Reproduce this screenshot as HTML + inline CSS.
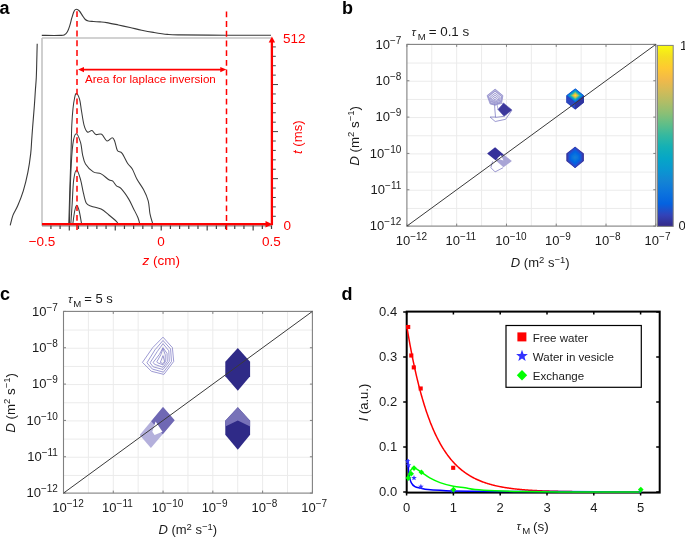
<!DOCTYPE html><html><head><meta charset="utf-8"><style>html,body{margin:0;padding:0;background:#fff;overflow:hidden}svg{display:block;will-change:transform}text{font-family:"Liberation Sans",sans-serif}</style></head><body>
<svg width="685" height="537" viewBox="0 0 685 537">
<defs><linearGradient id="cbar" x1="0" y1="0" x2="0" y2="1"><stop offset="0.0000" stop-color="#f9fb0e"/><stop offset="0.0625" stop-color="#f5de21"/><stop offset="0.1250" stop-color="#fec932"/><stop offset="0.1875" stop-color="#f2b949"/><stop offset="0.2500" stop-color="#d3bb58"/><stop offset="0.3125" stop-color="#b1bd66"/><stop offset="0.3750" stop-color="#8bbf75"/><stop offset="0.4375" stop-color="#5ebe89"/><stop offset="0.5000" stop-color="#33b8a1"/><stop offset="0.5625" stop-color="#13b0b6"/><stop offset="0.6250" stop-color="#06a6c7"/><stop offset="0.6875" stop-color="#0a97d1"/><stop offset="0.7500" stop-color="#1484d4"/><stop offset="0.8125" stop-color="#0c74dd"/><stop offset="0.8750" stop-color="#0462e0"/><stop offset="0.9375" stop-color="#3243b9"/><stop offset="1.0000" stop-color="#352a87"/></linearGradient><filter id="bl" x="-20%" y="-20%" width="140%" height="140%"><feGaussianBlur stdDeviation="0.6"/></filter></defs>
<rect width="685" height="537" fill="#fff"/>
<text x="-0.5" y="14" font-size="18" font-weight="bold" fill="#000">a</text>
<path d="M42,38 H271 M42,38 V225.8" stroke="#c4c4c4" stroke-width="1.6" fill="none"/>
<path d="M42,225.8 H272" stroke="#8a8a8a" stroke-width="1.2" fill="none"/>
<path d="M41.80,35.40 C44.83,35.40 56.22,35.50 60.00,35.40 C63.78,35.30 63.27,35.40 64.50,34.80 C65.73,34.20 66.53,33.28 67.40,31.80 C68.27,30.32 68.95,28.25 69.70,25.90 C70.45,23.55 71.15,20.18 71.90,17.70 C72.65,15.22 73.43,12.40 74.20,11.00 C74.97,9.60 75.63,9.30 76.50,9.30 C77.37,9.30 78.43,9.98 79.40,11.00 C80.37,12.02 81.32,13.98 82.30,15.40 C83.28,16.82 84.30,18.57 85.30,19.50 C86.30,20.43 86.93,20.67 88.30,21.00 C89.67,21.33 91.55,21.35 93.50,21.50 C95.45,21.65 97.80,21.72 100.00,21.90 C102.20,22.08 103.63,22.08 106.70,22.60 C109.77,23.12 114.52,24.18 118.40,25.00 C122.28,25.82 126.12,26.63 130.00,27.50 C133.88,28.37 137.80,29.38 141.70,30.20 C145.60,31.02 149.12,31.70 153.40,32.40 C157.68,33.10 162.97,33.98 167.40,34.40 C171.83,34.82 170.23,34.77 180.00,34.90 C189.77,35.03 210.83,35.13 226.00,35.20 C241.17,35.27 263.50,35.28 271.00,35.30" stroke="#3a3a3a" stroke-width="1.1" fill="none"/>
<path d="M37.20,43.70 C37.13,46.42 36.95,54.42 36.80,60.00 C36.65,65.58 36.53,72.20 36.30,77.20 C36.07,82.20 35.72,85.33 35.40,90.00 C35.08,94.67 34.87,98.95 34.40,105.20 C33.93,111.45 33.05,121.70 32.60,127.50 C32.15,133.30 32.02,135.65 31.70,140.00 C31.38,144.35 31.33,148.23 30.70,153.60 C30.07,158.97 29.13,165.98 27.90,172.20 C26.67,178.42 25.00,185.30 23.30,190.90 C21.60,196.50 19.42,201.77 17.70,205.80 C15.98,209.83 14.25,211.85 13.00,215.10 C11.75,218.35 10.67,223.60 10.20,225.30" stroke="#3a3a3a" stroke-width="1.1" fill="none"/>
<path d="M68.80,224.00 C68.97,218.33 69.42,202.33 69.80,190.00 C70.18,177.67 70.77,160.83 71.10,150.00 C71.43,139.17 71.48,131.92 71.80,125.00 C72.12,118.08 72.53,113.00 73.00,108.50 C73.47,104.00 74.05,100.50 74.60,98.00 C75.15,95.50 75.47,93.28 76.30,93.50 C77.13,93.72 78.73,96.38 79.60,99.30 C80.47,102.22 80.75,106.65 81.50,111.00 C82.25,115.35 83.12,121.90 84.10,125.40 C85.08,128.90 86.08,131.13 87.40,132.00 C88.72,132.87 90.58,130.18 92.00,130.60 C93.42,131.02 94.28,133.88 95.90,134.50 C97.52,135.12 99.85,133.22 101.70,134.30 C103.55,135.38 105.25,140.42 107.00,141.00 C108.75,141.58 110.92,137.77 112.20,137.80 C113.48,137.83 113.83,139.08 114.70,141.20 C115.57,143.32 116.17,148.48 117.40,150.50 C118.63,152.52 120.38,151.13 122.10,153.30 C123.82,155.47 126.00,160.88 127.70,163.50 C129.40,166.12 130.75,166.37 132.30,169.00 C133.85,171.63 135.13,175.87 137.00,179.30 C138.87,182.73 141.63,186.02 143.50,189.60 C145.37,193.18 147.12,196.77 148.20,200.80 C149.28,204.83 149.23,209.93 150.00,213.80 C150.77,217.67 152.33,222.30 152.80,224.00" stroke="#3a3a3a" stroke-width="1.05" fill="none"/>
<path d="M69.40,224.00 C69.63,215.65 70.23,187.13 70.80,173.90 C71.37,160.67 71.92,151.28 72.80,144.60 C73.68,137.92 74.80,134.13 76.10,133.80 C77.40,133.47 79.53,139.18 80.60,142.60 C81.67,146.02 81.68,150.72 82.50,154.30 C83.32,157.88 83.70,161.17 85.50,164.10 C87.30,167.03 90.70,170.27 93.30,171.90 C95.90,173.53 98.50,172.58 101.10,173.90 C103.70,175.22 106.95,178.58 108.90,179.80 C110.85,181.02 111.53,180.18 112.80,181.20 C114.07,182.22 115.10,184.65 116.50,185.90 C117.90,187.15 119.18,186.53 121.20,188.70 C123.22,190.87 126.58,195.65 128.60,198.90 C130.62,202.15 131.75,205.10 133.30,208.20 C134.85,211.30 136.82,214.87 137.90,217.50 C138.98,220.13 139.48,222.92 139.80,224.00" stroke="#3a3a3a" stroke-width="1.05" fill="none"/>
<path d="M70.80,224.00 C71.03,220.53 71.72,210.57 72.20,203.20 C72.68,195.83 72.95,185.33 73.70,179.80 C74.45,174.27 75.55,170.00 76.70,170.00 C77.85,170.00 79.47,175.90 80.60,179.80 C81.73,183.70 82.53,189.50 83.50,193.40 C84.47,197.30 85.10,201.07 86.40,203.20 C87.70,205.33 88.85,205.23 91.30,206.20 C93.75,207.17 98.17,207.53 101.10,209.00 C104.03,210.47 106.28,212.87 108.90,215.00 C111.52,217.13 115.28,220.30 116.80,221.80 C118.32,223.30 117.80,223.63 118.00,224.00" stroke="#3a3a3a" stroke-width="1.05" fill="none"/>
<path d="M72.80,224.00 C73.12,221.83 74.05,214.13 74.70,211.00 C75.35,207.87 75.95,205.20 76.70,205.20 C77.45,205.20 78.38,207.87 79.20,211.00 C80.02,214.13 81.20,221.83 81.60,224.00" stroke="#3a3a3a" stroke-width="1.05" fill="none"/>
<path d="M50.91,225.5 V228.9 M60.10,225.5 V228.9 M69.30,225.5 V230.6 M78.49,225.5 V228.9 M87.68,225.5 V228.9 M96.87,225.5 V228.9 M106.06,225.5 V228.9 M115.26,225.5 V230.6 M124.45,225.5 V228.9 M133.64,225.5 V228.9 M142.83,225.5 V228.9 M152.02,225.5 V228.9 M161.22,225.5 V230.6 M170.41,225.5 V228.9 M179.60,225.5 V228.9 M188.79,225.5 V228.9 M197.98,225.5 V228.9 M207.18,225.5 V230.6 M216.37,225.5 V228.9 M225.56,225.5 V228.9 M234.75,225.5 V228.9 M243.94,225.5 V228.9 M253.14,225.5 V230.6 M262.33,225.5 V228.9 M271.52,225.5 V228.9 " stroke="#404040" stroke-width="1.2" fill="none"/>
<path d="M272,216.29 H275.8 M272,206.88 H275.8 M272,197.47 H275.8 M272,188.06 H275.8 M272,178.65 H278 M272,169.24 H275.8 M272,159.83 H275.8 M272,150.42 H275.8 M272,141.01 H275.8 M272,131.60 H278 M272,122.19 H275.8 M272,112.78 H275.8 M272,103.37 H275.8 M272,93.96 H275.8 M272,84.55 H278 M272,75.14 H275.8 M272,65.73 H275.8 M272,56.32 H275.8 M272,46.91 H275.8 " stroke="#444" stroke-width="1" fill="none"/>
<path d="M42,224.2 H266.5 M271.9,225.2 V42" stroke="#ff0000" stroke-width="2.3" fill="none"/>
<path d="M272.6,224.2 L265.5,220.9 L265.5,227.5 Z" fill="#ff0000"/>
<path d="M271.9,36.6 L268.7,42.6 L275.1,42.6 Z" fill="#ff0000"/>
<path d="M77,11.2 V230 M226.5,11.4 V230" stroke="#ff0000" stroke-width="1.5" stroke-dasharray="5.9 3.8" fill="none"/>
<path d="M82.5,69.6 H221.5" stroke="#ff0000" stroke-width="1.6" fill="none"/>
<path d="M78,69.6 L84,66.9 L84,72.3 Z M226.3,69.6 L220.3,66.9 L220.3,72.3 Z" fill="#ff0000"/>
<text x="85" y="83" font-size="11.6" fill="#ff0000">Area for laplace inversion</text>
<text x="283" y="42.8" font-size="13.5" fill="#ff0000">512</text>
<text x="283.5" y="229.8" font-size="13.5" fill="#ff0000">0</text>
<text x="42" y="246" font-size="13.5" fill="#ff0000" text-anchor="middle">−0.5</text>
<text x="161" y="246" font-size="13.5" fill="#ff0000" text-anchor="middle">0</text>
<text x="271.5" y="246" font-size="13.5" fill="#ff0000" text-anchor="middle">0.5</text>
<text x="142.5" y="265.3" font-size="13.5" fill="#ff0000"><tspan font-style="italic">z</tspan> (cm)</text>
<text transform="translate(301.9,154) rotate(-90)" font-size="13.2" fill="#ff0000"><tspan font-style="italic">t</tspan> (ms)</text>
<text x="342" y="14" font-size="18" font-weight="bold" fill="#000">b</text>
<path d="M431.79,44.4 V226.1 M406.9,63.07 H655.8 M456.68,44.4 V226.1 M406.9,81.24 H655.8 M481.57,44.4 V226.1 M406.9,99.41 H655.8 M506.46,44.4 V226.1 M406.9,117.58 H655.8 M531.35,44.4 V226.1 M406.9,135.75 H655.8 M556.24,44.4 V226.1 M406.9,153.92 H655.8 M581.13,44.4 V226.1 M406.9,172.09 H655.8 M606.02,44.4 V226.1 M406.9,190.26 H655.8 M630.91,44.4 V226.1 M406.9,208.43 H655.8 " stroke="#ebebeb" stroke-width="1" fill="none"/>
<path d="M495.10,89.10 L502.90,95.60 L501.70,102.50 L495.30,105.20 L490.20,104.00 L487.10,95.60Z" fill="#b9b5dd" stroke="#8a86c8" stroke-width="0.7"/>
<path d="M495.10,91.17 L501.50,96.50 L500.51,102.16 L495.26,104.37 L491.08,103.39 L488.54,96.50Z" fill="#eeedf7" stroke="#8a86c8" stroke-width="0.75"/>
<path d="M495.10,93.24 L500.09,97.40 L499.32,101.82 L495.23,103.54 L491.96,102.78 L489.98,97.40Z" fill="#eeedf7" stroke="#8a86c8" stroke-width="0.75"/>
<path d="M495.10,95.19 L498.77,98.25 L498.20,101.49 L495.19,102.76 L492.80,102.20 L491.34,98.25Z" fill="#eeedf7" stroke="#8a86c8" stroke-width="0.75"/>
<path d="M495.10,97.15 L497.44,99.10 L497.08,101.17 L495.16,101.98 L493.63,101.62 L492.70,99.10Z" fill="#eeedf7" stroke="#8a86c8" stroke-width="0.75"/>
<path d="M495.10,98.99 L496.19,99.90 L496.02,100.87 L495.13,101.24 L494.41,101.08 L493.98,99.90Z" fill="#eeedf7" stroke="#8a86c8" stroke-width="0.75"/>
<path d="M497.00,104.40 L503.70,103.20 L498.10,109.60Z" fill="#fff" stroke="#8a86c8" stroke-width="0.7"/>
<path d="M503.70,103.20 L511.90,110.00 L504.10,116.30 L498.10,109.60Z" fill="#3d389c" stroke="#4a46a6" stroke-width="0.6"/>
<path d="M494.6,104.5 L494.8,108.8 L495.5,117 L490,117 L495.2,121.5 L505.6,119.3 L511.9,110.3 M495.2,117.4 L504.1,116.3" fill="none" stroke="#7a76c0" stroke-width="0.75"/>
<path d="M504.30,155.10 L511.90,161.00 L503.50,167.30 L495.50,160.20Z" fill="#a9a5d6"/>
<path d="M495.10,147.20 L503.90,154.70 L495.50,160.20 L487.10,153.40Z" fill="#35309a"/>
<path d="M497.00,158.50 L501.00,155.00 L503.40,160.50Z" fill="#fff"/>
<path d="M492.6,161.4 L490.9,167.7 L495.1,171.9 L503.1,167.7" fill="none" stroke="#7a76c0" stroke-width="0.75"/>
<path d="M575.30,88.40 L583.90,95.40 L583.90,102.50 L575.30,109.50 L566.40,102.50 L566.40,95.40Z" fill="#2a3aa8"/>
<path d="M566.40,95.40 L575.30,102.50 L575.30,109.50 L566.40,102.50Z" fill="#2c46c0"/>
<path d="M583.90,95.40 L575.30,102.50 L575.30,109.50 L583.90,102.50Z" fill="#3035a0"/>
<path d="M575.30,88.40 L583.90,95.40 L575.30,102.50 L566.40,95.40Z" fill="#0860df"/>
<path d="M575.30,89.10 L583.04,95.40 L575.30,101.79 L567.29,95.40Z" fill="#0e77db"/>
<path d="M575.30,89.80 L582.18,95.40 L575.30,101.08 L568.18,95.40Z" fill="#108fd2"/>
<path d="M575.30,90.50 L581.32,95.40 L575.30,100.37 L569.07,95.40Z" fill="#06a7c6"/>
<path d="M575.30,91.20 L580.46,95.40 L575.30,99.66 L569.96,95.40Z" fill="#28b6a8"/>
<path d="M575.30,91.90 L579.60,95.40 L575.30,98.95 L570.85,95.40Z" fill="#6cbf82"/>
<path d="M575.30,92.60 L578.74,95.40 L575.30,98.24 L571.74,95.40Z" fill="#afbe67"/>
<path d="M575.30,93.30 L577.88,95.40 L575.30,97.53 L572.63,95.40Z" fill="#e6b950"/>
<path d="M575.30,94.00 L577.02,95.40 L575.30,96.82 L573.52,95.40Z" fill="#fbcf2d"/>
<path d="M575.30,94.70 L576.16,95.40 L575.30,96.11 L574.41,95.40Z" fill="#f9fb0e"/>
<path d="M575.10,146.70 L583.90,153.40 L583.90,161.00 L575.10,168.10 L566.30,161.00 L566.30,153.40Z" fill="#363297"/>
<path d="M575.10,146.70 L583.01,153.40 L583.01,161.00 L575.10,168.10 L567.19,161.00 L567.19,153.40Z" fill="#353dad"/>
<path d="M575.10,146.97 L582.09,153.50 L582.09,160.91 L575.10,167.83 L568.11,160.91 L568.11,153.50Z" fill="#2c49c5"/>
<path d="M575.10,148.71 L581.14,154.15 L581.14,160.32 L575.10,166.09 L569.06,160.32 L569.06,154.15Z" fill="#1559da"/>
<path d="M575.10,150.44 L580.15,154.80 L580.15,159.74 L575.10,164.35 L570.05,159.74 L570.05,154.80Z" fill="#0265e1"/>
<path d="M575.10,152.18 L579.12,155.45 L579.12,159.16 L575.10,162.62 L571.08,159.16 L571.08,155.45Z" fill="#056ee0"/>
<path d="M575.10,153.92 L578.00,156.10 L578.00,158.57 L575.10,160.88 L572.20,158.57 L572.20,156.10Z" fill="#0d75dc"/>
<path d="M575.10,155.66 L576.77,156.75 L576.77,157.99 L575.10,159.14 L573.43,157.99 L573.43,156.75Z" fill="#127cd8"/>
<rect x="406.9" y="44.4" width="248.9" height="181.7" fill="none" stroke="#808080" stroke-width="1.1"/>
<path d="M406.90,226.1 v-2.5 M406.90,44.4 v2.5 M406.9,44.40 h2.5 M655.8,44.40 h-2.5 M456.68,226.1 v-2.5 M456.68,44.4 v2.5 M406.9,80.74 h2.5 M655.8,80.74 h-2.5 M506.46,226.1 v-2.5 M506.46,44.4 v2.5 M406.9,117.08 h2.5 M655.8,117.08 h-2.5 M556.24,226.1 v-2.5 M556.24,44.4 v2.5 M406.9,153.42 h2.5 M655.8,153.42 h-2.5 M606.02,226.1 v-2.5 M606.02,44.4 v2.5 M406.9,189.76 h2.5 M655.8,189.76 h-2.5 M655.80,226.1 v-2.5 M655.80,44.4 v2.5 M406.9,226.10 h2.5 M655.8,226.10 h-2.5 " stroke="#808080" stroke-width="1" fill="none"/>
<path d="M406.9,226.1 L655.8,44.4" stroke="#3a3a3a" stroke-width="1" fill="none"/>
<text x="401.30" y="48.60" font-size="13" fill="#1a1a1a" text-anchor="end">10<tspan font-size="10" dy="-4.9">−7</tspan></text>
<text x="401.30" y="84.94" font-size="13" fill="#1a1a1a" text-anchor="end">10<tspan font-size="10" dy="-4.9">−8</tspan></text>
<text x="401.30" y="121.28" font-size="13" fill="#1a1a1a" text-anchor="end">10<tspan font-size="10" dy="-4.9">−9</tspan></text>
<text x="401.30" y="157.62" font-size="13" fill="#1a1a1a" text-anchor="end">10<tspan font-size="10" dy="-4.9">−10</tspan></text>
<text x="401.30" y="193.96" font-size="13" fill="#1a1a1a" text-anchor="end">10<tspan font-size="10" dy="-4.9">−11</tspan></text>
<text x="401.30" y="230.30" font-size="13" fill="#1a1a1a" text-anchor="end">10<tspan font-size="10" dy="-4.9">−12</tspan></text>
<text x="395.70" y="245.10" font-size="13" fill="#1a1a1a">10<tspan font-size="10" dy="-4.9">−12</tspan></text>
<text x="445.48" y="245.10" font-size="13" fill="#1a1a1a">10<tspan font-size="10" dy="-4.9">−11</tspan></text>
<text x="495.26" y="245.10" font-size="13" fill="#1a1a1a">10<tspan font-size="10" dy="-4.9">−10</tspan></text>
<text x="545.04" y="245.10" font-size="13" fill="#1a1a1a">10<tspan font-size="10" dy="-4.9">−9</tspan></text>
<text x="594.82" y="245.10" font-size="13" fill="#1a1a1a">10<tspan font-size="10" dy="-4.9">−8</tspan></text>
<text x="644.60" y="245.10" font-size="13" fill="#1a1a1a">10<tspan font-size="10" dy="-4.9">−7</tspan></text>
<text x="540.25" y="266.70" font-size="13" fill="#1a1a1a" text-anchor="middle"><tspan font-style="italic">D</tspan> (m<tspan font-size="9.5" dy="-3.7">2</tspan><tspan dy="3.7"> s</tspan><tspan font-size="9.5" dy="-3.7">−1</tspan><tspan dy="3.7">)</tspan></text>
<text transform="translate(358.50,135.85) rotate(-90)" font-size="13.3" fill="#1a1a1a" text-anchor="middle"><tspan font-style="italic">D</tspan> (m<tspan font-size="9.5" dy="-5">2</tspan><tspan dy="5"> s</tspan><tspan font-size="9.5" dy="-5">−1</tspan><tspan dy="5">)</tspan></text>
<text x="411.40" y="35.90" font-size="11.5" fill="#1a1a1a" font-family="Liberation Serif" font-style="italic">τ</text>
<text x="417.80" y="39.80" font-size="9.6" fill="#1a1a1a">M</text>
<text x="428.66" y="36.20" font-size="13.4" fill="#1a1a1a">= 0.1 s</text>
<rect x="657.4" y="45.4" width="15.8" height="181" fill="url(#cbar)" stroke="#808080" stroke-width="1"/>
<text x="680" y="50.3" font-size="13" fill="#1a1a1a">1</text>
<text x="678.5" y="230" font-size="13" fill="#1a1a1a">0</text>
<text x="0" y="300" font-size="18" font-weight="bold" fill="#000">c</text>
<path d="M88.39,311.4 V493.09999999999997 M63.5,330.07 H312.4 M113.28,311.4 V493.09999999999997 M63.5,348.24 H312.4 M138.17,311.4 V493.09999999999997 M63.5,366.41 H312.4 M163.06,311.4 V493.09999999999997 M63.5,384.58 H312.4 M187.95,311.4 V493.09999999999997 M63.5,402.75 H312.4 M212.84,311.4 V493.09999999999997 M63.5,420.92 H312.4 M237.73,311.4 V493.09999999999997 M63.5,439.09 H312.4 M262.62,311.4 V493.09999999999997 M63.5,457.26 H312.4 M287.51,311.4 V493.09999999999997 M63.5,475.43 H312.4 " stroke="#ebebeb" stroke-width="1" fill="none"/>
<path d="M163.00,337.18 L172.38,347.62 L173.71,361.46 L163.89,374.41 L151.39,371.29 L142.46,362.36 L152.73,347.62Z" fill="none" stroke="#8480c8" stroke-width="0.8"/>
<path d="M163.00,340.48 L170.59,348.96 L171.48,361.46 L163.45,372.18 L152.29,369.05 L146.93,362.80 L154.96,349.86Z" fill="none" stroke="#8480c8" stroke-width="0.8"/>
<path d="M163.00,343.61 L168.80,350.75 L169.25,361.46 L163.00,369.50 L153.18,366.82 L150.05,362.80 L157.20,351.64Z" fill="none" stroke="#8480c8" stroke-width="0.8"/>
<path d="M163.00,347.62 L167.02,353.43 L167.29,361.64 L163.00,367.27 L154.52,364.32 L153.18,362.36 L159.43,354.32Z" fill="none" stroke="#8480c8" stroke-width="0.8"/>
<path d="M163.00,348.52 L165.23,354.77 L165.23,361.91 L163.00,364.86 L157.64,362.80 L156.75,361.91 L160.77,354.77Z" fill="none" stroke="#8480c8" stroke-width="0.8"/>
<path d="M163.00,355.66 L164.79,361.91 L162.55,363.43 L160.32,362.36Z" fill="none" stroke="#8480c8" stroke-width="0.8"/>
<path d="M163.00,407.10 L174.60,420.20 L150.90,448.10 L139.70,435.00Z" fill="#b4b0dc"/>
<path d="M163.00,407.10 L174.60,420.20 L162.80,434.30 L151.20,421.20Z" fill="#6f68b4"/>
<path d="M155.60,421.60 L162.50,431.80 L154.60,435.00 L152.30,431.80Z" fill="#fff"/>
<path d="M237.80,347.90 L250.10,361.80 L250.10,376.30 L237.80,390.80 L225.30,376.30 L225.30,361.80Z" fill="#2f2a87"/>
<path d="M237.80,407.20 L250.10,420.70 L250.10,434.70 L237.80,449.80 L225.30,434.70 L225.30,420.70Z" fill="#2f2a87"/>
<path d="M237.80,407.20 L250.10,420.70 L250.10,426.50 L237.80,420.50 L225.30,426.50 L225.30,420.70Z" fill="#7872b8"/>
<rect x="63.5" y="311.4" width="248.9" height="181.7" fill="none" stroke="#808080" stroke-width="1.1"/>
<path d="M63.50,493.09999999999997 v-2.5 M63.50,311.4 v2.5 M63.5,311.40 h2.5 M312.4,311.40 h-2.5 M113.28,493.09999999999997 v-2.5 M113.28,311.4 v2.5 M63.5,347.74 h2.5 M312.4,347.74 h-2.5 M163.06,493.09999999999997 v-2.5 M163.06,311.4 v2.5 M63.5,384.08 h2.5 M312.4,384.08 h-2.5 M212.84,493.09999999999997 v-2.5 M212.84,311.4 v2.5 M63.5,420.42 h2.5 M312.4,420.42 h-2.5 M262.62,493.09999999999997 v-2.5 M262.62,311.4 v2.5 M63.5,456.76 h2.5 M312.4,456.76 h-2.5 M312.40,493.09999999999997 v-2.5 M312.40,311.4 v2.5 M63.5,493.10 h2.5 M312.4,493.10 h-2.5 " stroke="#808080" stroke-width="1" fill="none"/>
<path d="M63.5,493.09999999999997 L312.4,311.4" stroke="#3a3a3a" stroke-width="1" fill="none"/>
<text x="57.90" y="315.60" font-size="13" fill="#1a1a1a" text-anchor="end">10<tspan font-size="10" dy="-4.9">−7</tspan></text>
<text x="57.90" y="351.94" font-size="13" fill="#1a1a1a" text-anchor="end">10<tspan font-size="10" dy="-4.9">−8</tspan></text>
<text x="57.90" y="388.28" font-size="13" fill="#1a1a1a" text-anchor="end">10<tspan font-size="10" dy="-4.9">−9</tspan></text>
<text x="57.90" y="424.62" font-size="13" fill="#1a1a1a" text-anchor="end">10<tspan font-size="10" dy="-4.9">−10</tspan></text>
<text x="57.90" y="460.96" font-size="13" fill="#1a1a1a" text-anchor="end">10<tspan font-size="10" dy="-4.9">−11</tspan></text>
<text x="57.90" y="497.30" font-size="13" fill="#1a1a1a" text-anchor="end">10<tspan font-size="10" dy="-4.9">−12</tspan></text>
<text x="52.30" y="512.10" font-size="13" fill="#1a1a1a">10<tspan font-size="10" dy="-4.9">−12</tspan></text>
<text x="102.08" y="512.10" font-size="13" fill="#1a1a1a">10<tspan font-size="10" dy="-4.9">−11</tspan></text>
<text x="151.86" y="512.10" font-size="13" fill="#1a1a1a">10<tspan font-size="10" dy="-4.9">−10</tspan></text>
<text x="201.64" y="512.10" font-size="13" fill="#1a1a1a">10<tspan font-size="10" dy="-4.9">−9</tspan></text>
<text x="251.42" y="512.10" font-size="13" fill="#1a1a1a">10<tspan font-size="10" dy="-4.9">−8</tspan></text>
<text x="301.20" y="512.10" font-size="13" fill="#1a1a1a">10<tspan font-size="10" dy="-4.9">−7</tspan></text>
<text x="187.80" y="533.70" font-size="13" fill="#1a1a1a" text-anchor="middle"><tspan font-style="italic">D</tspan> (m<tspan font-size="9.5" dy="-3.7">2</tspan><tspan dy="3.7"> s</tspan><tspan font-size="9.5" dy="-3.7">−1</tspan><tspan dy="3.7">)</tspan></text>
<text transform="translate(15.10,402.85) rotate(-90)" font-size="13.3" fill="#1a1a1a" text-anchor="middle"><tspan font-style="italic">D</tspan> (m<tspan font-size="9.5" dy="-5">2</tspan><tspan dy="5"> s</tspan><tspan font-size="9.5" dy="-5">−1</tspan><tspan dy="5">)</tspan></text>
<text x="68.00" y="302.90" font-size="11.5" fill="#1a1a1a" font-family="Liberation Serif" font-style="italic">τ</text>
<text x="73.20" y="306.80" font-size="9.6" fill="#1a1a1a">M</text>
<text x="84.30" y="303.20" font-size="13" fill="#1a1a1a">= 5 s</text>
<text x="341.5" y="299.7" font-size="18" font-weight="bold" fill="#000">d</text>
<rect x="406.7" y="311.6" width="253.00000000000006" height="181.0" fill="none" stroke="#000" stroke-width="2"/>
<path d="M406.7,492.00 h-3.5 M659.7,492.00 h-3.5 M406.7,447.00 h-3.5 M659.7,447.00 h-3.5 M406.7,402.00 h-3.5 M659.7,402.00 h-3.5 M406.7,357.00 h-3.5 M659.7,357.00 h-3.5 M406.7,312.00 h-3.5 M659.7,312.00 h-3.5 M406.60,492.6 v3 M406.60,311.6 v3 M453.40,492.6 v3 M453.40,311.6 v3 M500.20,492.6 v3 M500.20,311.6 v3 M547.00,492.6 v3 M547.00,311.6 v3 M593.80,492.6 v3 M593.80,311.6 v3 M640.60,492.6 v3 M640.60,311.6 v3 " stroke="#000" stroke-width="1.5" fill="none"/>
<path d="M406.60,325.05 L407.19,328.62 L407.77,332.11 L408.36,335.53 L408.95,338.87 L409.53,342.15 L410.12,345.35 L410.71,348.48 L411.29,351.55 L411.88,354.55 L412.46,357.49 L413.05,360.37 L413.64,363.18 L414.22,365.93 L414.81,368.63 L415.40,371.26 L415.98,373.84 L416.57,376.37 L417.16,378.84 L417.74,381.26 L418.33,383.63 L418.92,385.94 L419.50,388.21 L420.09,390.43 L420.68,392.60 L421.26,394.72 L421.85,396.80 L422.43,398.84 L423.02,400.83 L423.61,402.78 L424.19,404.69 L424.78,406.55 L425.37,408.38 L425.95,410.17 L426.54,411.91 L427.13,413.63 L427.71,415.30 L428.30,416.94 L428.89,418.54 L429.47,420.11 L430.06,421.65 L430.65,423.15 L431.23,424.63 L431.82,426.07 L432.40,427.48 L432.99,428.85 L433.58,430.20 L434.16,431.53 L434.75,432.82 L435.34,434.08 L435.92,435.32 L436.51,436.53 L437.10,437.72 L437.68,438.88 L438.27,440.01 L438.86,441.12 L439.44,442.21 L440.03,443.28 L440.62,444.32 L441.20,445.34 L441.79,446.33 L442.37,447.31 L442.96,448.27 L443.55,449.20 L444.13,450.12 L444.72,451.01 L445.31,451.89 L445.89,452.74 L446.48,453.58 L447.07,454.40 L447.65,455.21 L448.24,455.99 L448.83,456.76 L449.41,457.52 L450.00,458.25 L450.58,458.98 L451.17,459.68 L451.76,460.37 L452.34,461.05 L452.93,461.71 L453.52,462.36 L454.10,462.99 L454.69,463.61 L455.28,464.22 L455.86,464.81 L456.45,465.39 L457.04,465.96 L457.62,466.52 L458.21,467.06 L458.80,467.60 L459.38,468.12 L459.97,468.63 L460.55,469.13 L461.14,469.62 L461.73,470.09 L462.31,470.56 L462.90,471.02 L463.49,471.47 L464.07,471.91 L464.66,472.34 L465.25,472.76 L465.83,473.17 L466.42,473.57 L467.01,473.97 L467.59,474.35 L468.18,474.73 L468.77,475.10 L469.35,475.46 L469.94,475.81 L470.52,476.16 L471.11,476.50 L471.70,476.83 L472.28,477.15 L472.87,477.47 L473.46,477.78 L474.04,478.08 L474.63,478.38 L475.22,478.67 L475.80,478.96 L476.39,479.24 L476.98,479.51 L477.56,479.78 L478.15,480.04 L478.74,480.29 L479.32,480.54 L479.91,480.79 L480.49,481.03 L481.08,481.26 L481.67,481.49 L482.25,481.72 L482.84,481.94 L483.43,482.15 L484.01,482.36 L484.60,482.57 L485.19,482.77 L485.77,482.97 L486.36,483.16 L486.95,483.35 L487.53,483.53 L488.12,483.71 L488.71,483.89 L489.29,484.06 L489.88,484.23 L490.46,484.40 L491.05,484.56 L491.64,484.72 L492.22,484.88 L492.81,485.03 L493.40,485.18 L493.98,485.32 L494.57,485.47 L495.16,485.61 L495.74,485.74 L496.33,485.88 L496.92,486.01 L497.50,486.14 L498.09,486.26 L498.68,486.38 L499.26,486.50 L499.85,486.62 L500.43,486.74 L501.02,486.85 L501.61,486.96 L502.19,487.07 L502.78,487.17 L503.37,487.28 L503.95,487.38 L504.54,487.48 L505.13,487.57 L505.71,487.67 L506.30,487.76 L506.89,487.85 L507.47,487.94 L508.06,488.03 L508.65,488.11 L509.23,488.19 L509.82,488.27 L510.40,488.35 L510.99,488.43 L511.58,488.51 L512.16,488.58 L512.75,488.66 L513.34,488.73 L513.92,488.80 L514.51,488.87 L515.10,488.93 L515.68,489.00 L516.27,489.06 L516.86,489.13 L517.44,489.19 L518.03,489.25 L518.62,489.31 L519.20,489.36 L519.79,489.42 L520.37,489.48 L520.96,489.53 L521.55,489.58 L522.13,489.63 L522.72,489.68 L523.31,489.73 L523.89,489.78 L524.48,489.83 L525.07,489.88 L525.65,489.92 L526.24,489.97 L526.83,490.01 L527.41,490.05 L528.00,490.09 L528.58,490.13 L529.17,490.17 L529.76,490.21 L530.34,490.25 L530.93,490.29 L531.52,490.33 L532.10,490.36 L532.69,490.40 L533.28,490.43 L533.86,490.46 L534.45,490.50 L535.04,490.53 L535.62,490.56 L536.21,490.59 L536.80,490.62 L537.38,490.65 L537.97,490.68 L538.55,490.71 L539.14,490.74 L539.73,490.76 L540.31,490.79 L540.90,490.81 L541.49,490.84 L542.07,490.86 L542.66,490.89 L543.25,490.91 L543.83,490.94 L544.42,490.96 L545.01,490.98 L545.59,491.00 L546.18,491.02 L546.77,491.05 L547.35,491.07 L547.94,491.09 L548.52,491.10 L549.11,491.12 L549.70,491.14 L550.28,491.16 L550.87,491.18 L551.46,491.20 L552.04,491.21 L552.63,491.23 L553.22,491.25 L553.80,491.26 L554.39,491.28 L554.98,491.29 L555.56,491.31 L556.15,491.32 L556.74,491.34 L557.32,491.35 L557.91,491.37 L558.49,491.38 L559.08,491.39 L559.67,491.41 L560.25,491.42 L560.84,491.43 L561.43,491.44 L562.01,491.46 L562.60,491.47 L563.19,491.48 L563.77,491.49 L564.36,491.50 L564.95,491.51 L565.53,491.52 L566.12,491.53 L566.71,491.54 L567.29,491.55 L567.88,491.56 L568.46,491.57 L569.05,491.58 L569.64,491.59 L570.22,491.60 L570.81,491.61 L571.40,491.61 L571.98,491.62 L572.57,491.63 L573.16,491.64 L573.74,491.65 L574.33,491.65 L574.92,491.66 L575.50,491.67 L576.09,491.68 L576.68,491.68 L577.26,491.69 L577.85,491.70 L578.43,491.70 L579.02,491.71 L579.61,491.72 L580.19,491.72 L580.78,491.73 L581.37,491.73 L581.95,491.74 L582.54,491.74 L583.13,491.75 L583.71,491.76 L584.30,491.76 L584.89,491.77 L585.47,491.77 L586.06,491.78 L586.65,491.78 L587.23,491.78 L587.82,491.79 L588.40,491.79 L588.99,491.80 L589.58,491.80 L590.16,491.81 L590.75,491.81 L591.34,491.82 L591.92,491.82 L592.51,491.82 L593.10,491.83 L593.68,491.83 L594.27,491.83 L594.86,491.84 L595.44,491.84 L596.03,491.84 L596.62,491.85 L597.20,491.85 L597.79,491.85 L598.37,491.86 L598.96,491.86 L599.55,491.86 L600.13,491.87 L600.72,491.87 L601.31,491.87 L601.89,491.87 L602.48,491.88 L603.07,491.88 L603.65,491.88 L604.24,491.89 L604.83,491.89 L605.41,491.89 L606.00,491.89 L606.58,491.89 L607.17,491.90 L607.76,491.90 L608.34,491.90 L608.93,491.90 L609.52,491.91 L610.10,491.91 L610.69,491.91 L611.28,491.91 L611.86,491.91 L612.45,491.92 L613.04,491.92 L613.62,491.92 L614.21,491.92 L614.80,491.92 L615.38,491.92 L615.97,491.93 L616.55,491.93 L617.14,491.93 L617.73,491.93 L618.31,491.93 L618.90,491.93 L619.49,491.93 L620.07,491.94 L620.66,491.94 L621.25,491.94 L621.83,491.94 L622.42,491.94 L623.01,491.94 L623.59,491.94 L624.18,491.94 L624.77,491.95 L625.35,491.95 L625.94,491.95 L626.52,491.95 L627.11,491.95 L627.70,491.95 L628.28,491.95 L628.87,491.95 L629.46,491.95 L630.04,491.96 L630.63,491.96 L631.22,491.96 L631.80,491.96 L632.39,491.96 L632.98,491.96 L633.56,491.96 L634.15,491.96 L634.74,491.96 L635.32,491.96 L635.91,491.96 L636.49,491.96 L637.08,491.97 L637.67,491.97 L638.25,491.97 L638.84,491.97 L639.43,491.97 L640.01,491.97 L640.60,491.97" fill="none" stroke="#ff0000" stroke-width="1.5"/>
<path d="M407.90,459.30 C407.98,460.85 408.17,465.82 408.40,468.60 C408.63,471.38 408.83,473.67 409.30,476.00 C409.77,478.33 410.27,480.82 411.20,482.60 C412.13,484.38 413.35,485.78 414.90,486.70 C416.45,487.62 418.33,487.63 420.50,488.10 C422.67,488.57 424.65,489.13 427.90,489.50 C431.15,489.87 432.98,490.02 440.00,490.30 C447.02,490.58 436.50,490.93 470.00,491.20 C503.50,491.47 612.50,491.78 641.00,491.90" fill="none" stroke="#0000ff" stroke-width="1.5"/>
<path d="M407.60,480.50 C407.77,479.67 408.20,477.00 408.60,475.50 C409.00,474.00 409.47,472.58 410.00,471.50 C410.53,470.42 411.22,469.57 411.80,469.00 C412.38,468.43 412.80,468.15 413.50,468.10 C414.20,468.05 414.68,468.00 416.00,468.70 C417.32,469.40 419.10,470.77 421.40,472.30 C423.70,473.83 426.70,476.18 429.80,477.90 C432.90,479.62 436.07,481.20 440.00,482.60 C443.93,484.00 449.23,485.43 453.40,486.30 C457.57,487.17 461.40,487.27 465.00,487.80 C468.60,488.33 470.00,489.00 475.00,489.50 C480.00,490.00 487.50,490.47 495.00,490.80 C502.50,491.13 509.17,491.32 520.00,491.50 C530.83,491.68 539.83,491.83 560.00,491.90 C580.17,491.97 627.50,491.90 641.00,491.90" fill="none" stroke="#00ff00" stroke-width="1.5"/>
<rect x="406.15" y="324.95" width="4.1" height="4.1" fill="#ff0000"/>
<rect x="409.25" y="353.45" width="4.1" height="4.1" fill="#ff0000"/>
<rect x="411.75" y="365.35" width="4.1" height="4.1" fill="#ff0000"/>
<rect x="418.65" y="386.45" width="4.1" height="4.1" fill="#ff0000"/>
<rect x="451.15" y="465.75" width="4.1" height="4.1" fill="#ff0000"/>
<path d="M407.60,458.20 L408.34,460.18 L410.45,460.27 L408.80,461.59 L409.36,463.63 L407.60,462.46 L405.84,463.63 L406.40,461.59 L404.75,460.27 L406.86,460.18Z" fill="#3333ff"/>
<path d="M408.40,462.30 L409.14,464.28 L411.25,464.37 L409.60,465.69 L410.16,467.73 L408.40,466.56 L406.64,467.73 L407.20,465.69 L405.55,464.37 L407.66,464.28Z" fill="#3333ff"/>
<path d="M414.00,474.90 L414.74,476.88 L416.85,476.97 L415.20,478.29 L415.76,480.33 L414.00,479.16 L412.24,480.33 L412.80,478.29 L411.15,476.97 L413.26,476.88Z" fill="#3333ff"/>
<path d="M420.90,483.70 L421.64,485.68 L423.75,485.77 L422.10,487.09 L422.66,489.13 L420.90,487.96 L419.14,489.13 L419.70,487.09 L418.05,485.77 L420.16,485.68Z" fill="#3333ff"/>
<path d="M453.00,487.50 L453.74,489.48 L455.85,489.57 L454.20,490.89 L454.76,492.93 L453.00,491.76 L451.24,492.93 L451.80,490.89 L450.15,489.57 L452.26,489.48Z" fill="#3333ff"/>
<path d="M640.60,488.00 L641.24,489.72 L643.07,489.80 L641.64,490.94 L642.13,492.70 L640.60,491.69 L639.07,492.70 L639.56,490.94 L638.13,489.80 L639.96,489.72Z" fill="#3333ff"/>
<path d="M408.4,475.09999999999997 L411.2,477.9 L408.4,480.7 L405.59999999999997,477.9Z" fill="#00ff00"/>
<path d="M411.2,470.9 L414.0,473.7 L411.2,476.5 L408.4,473.7Z" fill="#00ff00"/>
<path d="M414,465.3 L416.8,468.1 L414,470.90000000000003 L411.2,468.1Z" fill="#00ff00"/>
<path d="M421.4,469.5 L424.2,472.3 L421.4,475.1 L418.59999999999997,472.3Z" fill="#00ff00"/>
<path d="M453.4,486.8 L456.2,489.6 L453.4,492.40000000000003 L450.59999999999997,489.6Z" fill="#00ff00"/>
<path d="M640.8,486.8 L643.5999999999999,489.6 L640.8,492.40000000000003 L638.0,489.6Z" fill="#00ff00"/>
<text x="397.2" y="496.30" font-size="13" fill="#1a1a1a" text-anchor="end">0.0</text>
<text x="397.2" y="451.30" font-size="13" fill="#1a1a1a" text-anchor="end">0.1</text>
<text x="397.2" y="406.30" font-size="13" fill="#1a1a1a" text-anchor="end">0.2</text>
<text x="397.2" y="361.30" font-size="13" fill="#1a1a1a" text-anchor="end">0.3</text>
<text x="397.2" y="316.30" font-size="13" fill="#1a1a1a" text-anchor="end">0.4</text>
<text x="406.60" y="511.8" font-size="13" fill="#1a1a1a" text-anchor="middle">0</text>
<text x="453.40" y="511.8" font-size="13" fill="#1a1a1a" text-anchor="middle">1</text>
<text x="500.20" y="511.8" font-size="13" fill="#1a1a1a" text-anchor="middle">2</text>
<text x="547.00" y="511.8" font-size="13" fill="#1a1a1a" text-anchor="middle">3</text>
<text x="593.80" y="511.8" font-size="13" fill="#1a1a1a" text-anchor="middle">4</text>
<text x="640.60" y="511.8" font-size="13" fill="#1a1a1a" text-anchor="middle">5</text>
<text x="516.6" y="529.9" font-size="11.5" fill="#1a1a1a" font-family="Liberation Serif" font-style="italic">τ</text>
<text x="522.2" y="534.3" font-size="9.6" fill="#1a1a1a">M</text>
<text x="533" y="531" font-size="13.5" fill="#1a1a1a">(s)</text>
<text transform="translate(367.9,402.5) rotate(-90)" font-size="13" fill="#1a1a1a" text-anchor="middle"><tspan font-style="italic">I</tspan> (a.u.)</text>
<rect x="506" y="325.5" width="135.3" height="61.8" fill="#fff" stroke="#000" stroke-width="1.2"/>
<rect x="517.40" y="332.40" width="9" height="9" fill="#ff0000"/>
<path d="M522.00,349.80 L523.53,353.89 L527.90,354.08 L524.48,356.80 L525.64,361.02 L522.00,358.60 L518.36,361.02 L519.52,356.80 L516.10,354.08 L520.47,353.89Z" fill="#3333ff"/>
<path d="M522,370.1 L527.2,375.3 L522,380.5 L516.8,375.3Z" fill="#00ff00"/>
<text x="532.8" y="341.7" font-size="11.55" fill="#1a1a1a">Free water</text>
<text x="532.8" y="360.8" font-size="11.55" fill="#1a1a1a">Water in vesicle</text>
<text x="532.8" y="379.6" font-size="11.55" fill="#1a1a1a">Exchange</text>
</svg></body></html>
